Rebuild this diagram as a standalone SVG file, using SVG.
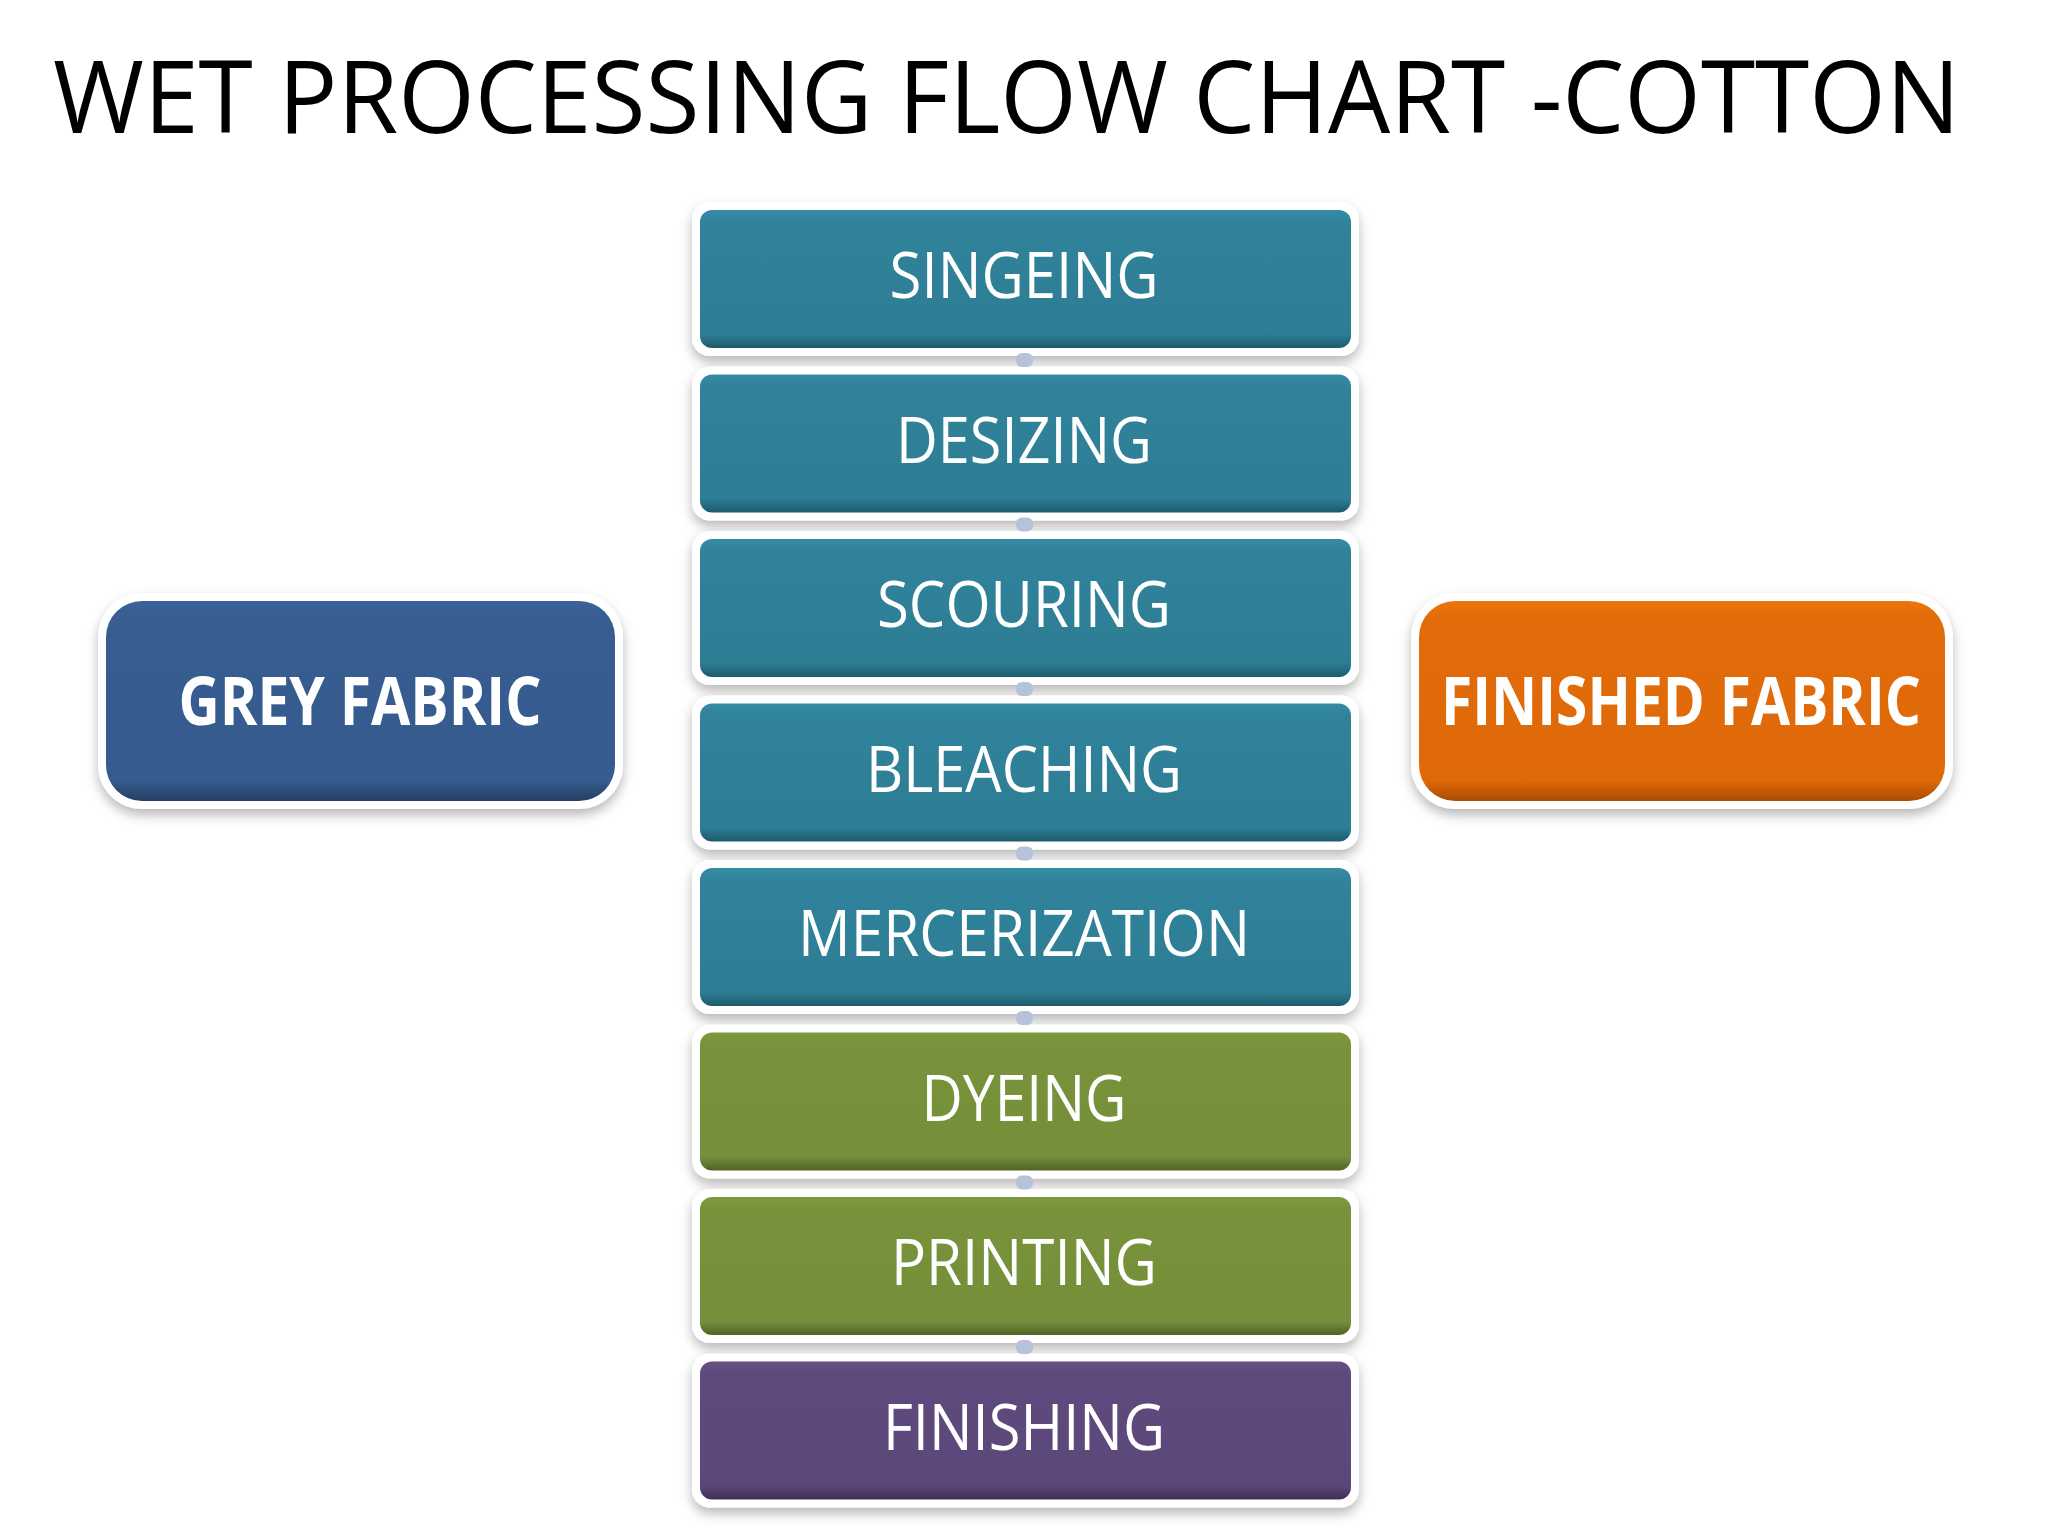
<svg xmlns="http://www.w3.org/2000/svg" width="2048" height="1536" viewBox="0 0 2048 1536">
<defs>
<filter id="sh" x="-10%" y="-20%" width="120%" height="150%">
<feDropShadow dx="0" dy="6" stdDeviation="6" flood-color="#000" flood-opacity="0.28"/>
</filter>
<linearGradient id="gTeal" x1="0" y1="0" x2="0" y2="1">
<stop offset="0" stop-color="#368ba5"/><stop offset="0.08" stop-color="#30839b"/><stop offset="0.9" stop-color="#2d7d94"/><stop offset="1" stop-color="#1d5a6c"/>
</linearGradient>
<linearGradient id="gGreen" x1="0" y1="0" x2="0" y2="1">
<stop offset="0" stop-color="#7e9a40"/><stop offset="0.08" stop-color="#78933b"/><stop offset="0.9" stop-color="#758f3a"/><stop offset="1" stop-color="#4f6326"/>
</linearGradient>
<linearGradient id="gPurple" x1="0" y1="0" x2="0" y2="1">
<stop offset="0" stop-color="#664f84"/><stop offset="0.08" stop-color="#5f4a7d"/><stop offset="0.9" stop-color="#5c477a"/><stop offset="1" stop-color="#3e2f55"/>
</linearGradient>
<linearGradient id="gBlue" x1="0" y1="0" x2="0" y2="1">
<stop offset="0" stop-color="#3b639a"/><stop offset="0.08" stop-color="#375d91"/><stop offset="0.9" stop-color="#365b8e"/><stop offset="1" stop-color="#243e63"/>
</linearGradient>
<linearGradient id="gOrange" x1="0" y1="0" x2="0" y2="1">
<stop offset="0" stop-color="#ee760e"/><stop offset="0.08" stop-color="#e26b0a"/><stop offset="0.9" stop-color="#df6808"/><stop offset="1" stop-color="#a84c04"/>
</linearGradient>
<style>
.frame{fill:#ffffff;filter:url(#sh)}
.lbl{font-family:"Open Sans","DejaVu Sans",sans-serif;font-size:64px;fill:#ffffff;text-anchor:middle}
.bold{font-weight:bold;font-size:66px}
.title{font-family:"Open Sans","DejaVu Sans",sans-serif;font-size:100px;fill:#000000}
.conn{fill:#b6c1da}
</style>
</defs>
<rect width="2048" height="1536" fill="#ffffff"/>
<text class="title" x="53" y="133" textLength="1907" lengthAdjust="spacingAndGlyphs">WET PROCESSING FLOW CHART -COTTON</text>

<g id="grey-fabric">
<rect class="frame" x="98" y="593" width="525" height="216" rx="44"/>
<rect x="106" y="601" width="509" height="200" rx="36" fill="url(#gBlue)"/>
<text class="lbl bold" x="360" y="725" textLength="363" lengthAdjust="spacingAndGlyphs">GREY FABRIC</text>
</g>
<g id="finished-fabric">
<rect class="frame" x="1411" y="593" width="542" height="216" rx="44"/>
<rect x="1419" y="601" width="526" height="200" rx="36" fill="url(#gOrange)"/>
<text class="lbl bold" x="1681" y="725" textLength="480" lengthAdjust="spacingAndGlyphs">FINISHED FABRIC</text>
</g>

<g id="singeing">
<rect class="frame" x="692" y="202" width="667" height="154" rx="18"/>
<rect x="700" y="210" width="651" height="138" rx="12" fill="url(#gTeal)"/>
<text class="lbl" x="1024" y="298" textLength="269" lengthAdjust="spacingAndGlyphs">SINGEING</text>
</g>
<g id="desizing">
<rect class="frame" x="692" y="366.5" width="667" height="154" rx="18"/>
<rect x="700" y="374.5" width="651" height="138" rx="12" fill="url(#gTeal)"/>
<text class="lbl" x="1024" y="462.5" textLength="256" lengthAdjust="spacingAndGlyphs">DESIZING</text>
</g>
<g id="scouring">
<rect class="frame" x="692" y="531" width="667" height="154" rx="18"/>
<rect x="700" y="539" width="651" height="138" rx="12" fill="url(#gTeal)"/>
<text class="lbl" x="1024" y="627" textLength="294" lengthAdjust="spacingAndGlyphs">SCOURING</text>
</g>
<g id="bleaching">
<rect class="frame" x="692" y="695.5" width="667" height="154" rx="18"/>
<rect x="700" y="703.5" width="651" height="138" rx="12" fill="url(#gTeal)"/>
<text class="lbl" x="1024" y="791.5" textLength="316" lengthAdjust="spacingAndGlyphs">BLEACHING</text>
</g>
<g id="mercerization">
<rect class="frame" x="692" y="860" width="667" height="154" rx="18"/>
<rect x="700" y="868" width="651" height="138" rx="12" fill="url(#gTeal)"/>
<text class="lbl" x="1024" y="956" textLength="452" lengthAdjust="spacingAndGlyphs">MERCERIZATION</text>
</g>
<g id="dyeing">
<rect class="frame" x="692" y="1024.5" width="667" height="154" rx="18"/>
<rect x="700" y="1032.5" width="651" height="138" rx="12" fill="url(#gGreen)"/>
<text class="lbl" x="1024" y="1120.5" textLength="205" lengthAdjust="spacingAndGlyphs">DYEING</text>
</g>
<g id="printing">
<rect class="frame" x="692" y="1189" width="667" height="154" rx="18"/>
<rect x="700" y="1197" width="651" height="138" rx="12" fill="url(#gGreen)"/>
<text class="lbl" x="1024" y="1285" textLength="266" lengthAdjust="spacingAndGlyphs">PRINTING</text>
</g>
<g id="finishing">
<rect class="frame" x="692" y="1353.5" width="667" height="154" rx="18"/>
<rect x="700" y="1361.5" width="651" height="138" rx="12" fill="url(#gPurple)"/>
<text class="lbl" x="1024" y="1449.5" textLength="282" lengthAdjust="spacingAndGlyphs">FINISHING</text>
</g>

<g id="connectors">
<rect class="conn" x="1016" y="353" width="17" height="14" rx="6"/>
<rect class="conn" x="1016" y="517.5" width="17" height="14" rx="6"/>
<rect class="conn" x="1016" y="682" width="17" height="14" rx="6"/>
<rect class="conn" x="1016" y="846.5" width="17" height="14" rx="6"/>
<rect class="conn" x="1016" y="1011" width="17" height="14" rx="6"/>
<rect class="conn" x="1016" y="1175.5" width="17" height="14" rx="6"/>
<rect class="conn" x="1016" y="1340" width="17" height="14" rx="6"/>
</g>
</svg>
